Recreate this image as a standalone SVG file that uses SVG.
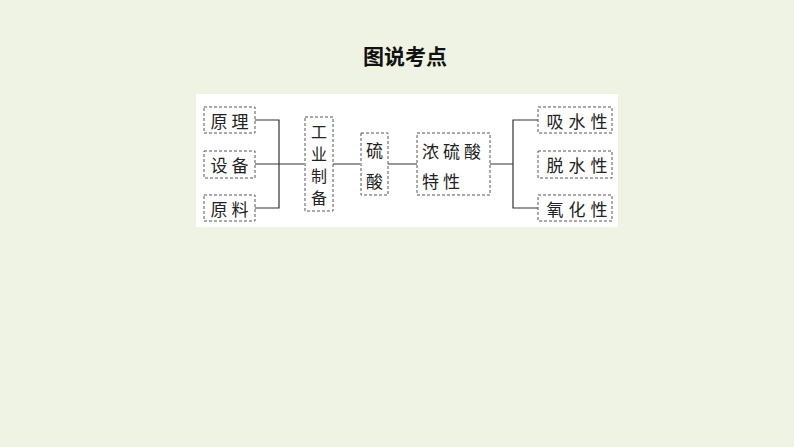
<svg xmlns="http://www.w3.org/2000/svg" width="794" height="447" viewBox="0 0 794 447">
<style>
.box{fill:none;stroke:#555;stroke-width:1;stroke-dasharray:3 2}
.t{font-family:"Noto Sans CJK SC","Noto Sans CJK JP",sans-serif;font-size:17px;fill:#222;dominant-baseline:central}
.v{font-size:16px}
.ln{fill:none;stroke:#333;stroke-width:1.2}
</style>
<rect width="794" height="447" fill="#EEF3E3"/>
<text x="405" y="55" text-anchor="middle" style="font-family:'Noto Sans CJK SC',sans-serif;font-size:21px;font-weight:bold;fill:#111;dominant-baseline:central">图说考点</text>
<rect x="196" y="94" width="422" height="133" fill="#fff"/>
<g id="connectors">
<path class="ln" d="M255 120H279V208H255M255 164H304M333 164H360M388 164H417M490 164H513M538 120H513V208H538"/>
</g>
<g id="n1"><rect class="box" x="204" y="107" width="51" height="26"/><text class="t" x="231.5" y="120" text-anchor="middle" letter-spacing="4">原理</text></g>
<g id="n2"><rect class="box" x="204" y="151" width="51" height="27"/><text class="t" x="231.5" y="164" text-anchor="middle" letter-spacing="4">设备</text></g>
<g id="n3"><rect class="box" x="204" y="195" width="51" height="26"/><text class="t" x="231.5" y="208" text-anchor="middle" letter-spacing="4">原料</text></g>
<g id="n4"><rect class="box" x="305" y="117" width="28" height="94"/>
<text class="t v" x="319" y="131" text-anchor="middle">工</text>
<text class="t v" x="319" y="153" text-anchor="middle">业</text>
<text class="t v" x="319" y="175" text-anchor="middle">制</text>
<text class="t v" x="319" y="197" text-anchor="middle">备</text></g>
<g id="n5"><rect class="box" x="361" y="133" width="27" height="62"/>
<text class="t" x="374.5" y="149" text-anchor="middle">硫</text>
<text class="t" x="374.5" y="180" text-anchor="middle">酸</text></g>
<g id="n6"><rect class="box" x="417" y="133" width="73" height="62"/>
<text class="t" x="422" y="150" letter-spacing="4">浓硫酸</text>
<text class="t" x="422" y="180" letter-spacing="4">特性</text></g>
<g id="n7"><rect class="box" x="538" y="107" width="74" height="26"/><text class="t" x="579.5" y="120" text-anchor="middle" letter-spacing="5">吸水性</text></g>
<g id="n8"><rect class="box" x="538" y="151" width="74" height="27"/><text class="t" x="579.5" y="164" text-anchor="middle" letter-spacing="5">脱水性</text></g>
<g id="n9"><rect class="box" x="538" y="195" width="74" height="26"/><text class="t" x="579.5" y="208" text-anchor="middle" letter-spacing="5">氧化性</text></g>
</svg>
